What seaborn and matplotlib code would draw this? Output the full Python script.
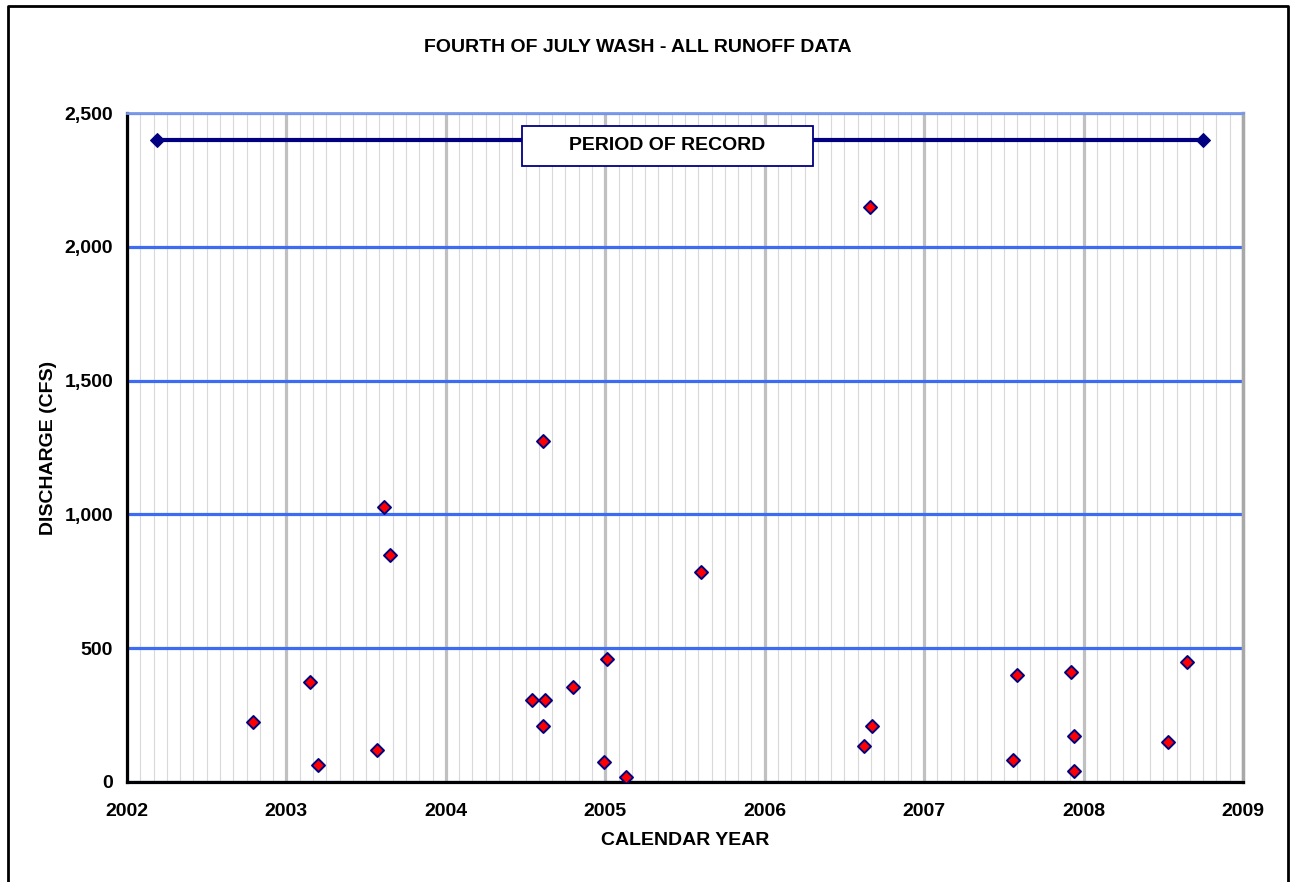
import numpy as np
import pandas as pd
import matplotlib
matplotlib.use("Agg")
import matplotlib.pyplot as plt
import matplotlib.patches as patches
from matplotlib.lines import Line2D
from matplotlib.ticker import MultipleLocator, FuncFormatter
import seaborn as sns

# Runoff events (decimal calendar year, discharge in cfs)
event_year = [2002.79, 2003.15, 2003.20, 2003.57, 2003.61, 2003.65,
              2004.54, 2004.61, 2004.62, 2004.61, 2004.80, 2004.99,
              2005.01, 2005.13, 2005.60, 2006.62, 2006.66, 2006.67,
              2007.56, 2007.58, 2007.92, 2007.94, 2007.94, 2008.53, 2008.65]
discharge = [225, 373, 62, 120, 1027, 850,
             305, 1275, 305, 210, 356, 74,
             459, 20, 785, 134, 2150, 210,
             84, 400, 410, 171, 42, 151, 448]

# Period of record bar
record_year = [2002.19, 2008.75]
record_level = [2400, 2400]

year_ticks = [2002, 2003, 2004, 2005, 2006, 2007, 2008, 2009]
cfs_ticks = [0, 500, 1000, 1500, 2000, 2500]

df = pd.DataFrame({"year": event_year, "cfs": discharge})
rec = pd.DataFrame({"year": record_year, "cfs": record_level})

sns.set_style("white")
plt.rcParams["font.family"] = ["Liberation Sans", "DejaVu Sans"]
plt.rcParams["font.weight"] = "bold"
plt.rcParams["text.color"] = "black"
plt.rcParams["axes.labelcolor"] = "black"
plt.rcParams["xtick.color"] = "black"
plt.rcParams["ytick.color"] = "black"

FS = 14

fig = plt.figure(figsize=(12.93, 8.82), dpi=100)
ax = fig.add_axes([127 / 1293, 1 - 782 / 882, 1116 / 1293, 669 / 882])

ax.set_xlim(2002, 2009)
ax.set_ylim(0, 2500)

# grid: monthly light lines, yearly gray lines, blue horizontal lines
ax.xaxis.set_major_locator(plt.FixedLocator(year_ticks))
ax.xaxis.set_minor_locator(MultipleLocator(1 / 12))
ax.yaxis.set_major_locator(plt.FixedLocator(cfs_ticks))
ax.grid(True, which="minor", axis="x", color="#d9d9d9", linewidth=0.8)
ax.grid(True, which="major", axis="x", color="#c0c0c0", linewidth=2.3)
ax.grid(True, which="major", axis="y", color="#3d6cf2", linewidth=2.3)
ax.set_axisbelow(True)

# period of record
sns.lineplot(data=rec, x="year", y="cfs", ax=ax, color="#000080", linewidth=3,
             marker="D", markersize=7.5, markeredgecolor="#000080", zorder=3)

sns.scatterplot(data=df, x="year", y="cfs", ax=ax, marker="D", s=44,
                color="#ff0000", edgecolor="#000080", linewidth=1.4, zorder=4)

ax.add_patch(patches.Rectangle((0.354, 0.9208), 0.2608, 0.0598,
                               transform=ax.transAxes, facecolor="white",
                               edgecolor="#000080", linewidth=1.3, zorder=5))
ax.text(0.354 + 0.1304, 0.9507, "PERIOD OF RECORD", transform=ax.transAxes,
        ha="center", va="center", fontsize=FS, fontweight="bold", zorder=6)

# spines
for s in ["left", "bottom"]:
    ax.spines[s].set_color("black")
    ax.spines[s].set_linewidth(2.3)
ax.spines["top"].set_color("#7a98e8")
ax.spines["top"].set_linewidth(2)
ax.spines["right"].set_color("#a8a8a8")
ax.spines["right"].set_linewidth(2.5)

ax.tick_params(axis="both", which="major", direction="out", length=5,
               width=2.3, color="black", labelsize=FS)
ax.tick_params(axis="x", which="major", pad=10)
ax.tick_params(axis="y", which="major", pad=5)
ax.tick_params(axis="x", which="minor", length=0)
ax.yaxis.set_major_formatter(FuncFormatter(lambda v, p: f"{int(v):,}"))
for lab in ax.get_xticklabels() + ax.get_yticklabels():
    lab.set_fontweight("bold")

ax.set_xlabel("CALENDAR YEAR", fontsize=FS, fontweight="bold", labelpad=9)
ax.set_ylabel("DISCHARGE (CFS)", fontsize=FS, fontweight="bold", labelpad=5)

fig.text(638 / 1293, 1 - 47 / 882, "FOURTH OF JULY WASH - ALL RUNOFF DATA",
         ha="center", va="center", fontsize=FS, fontweight="bold")

# outer chart frame (runs off the bottom of the picture)
fig.add_artist(Line2D([8 / 1293, 8 / 1293, 1288 / 1293, 1288 / 1293],
                      [0, 1 - 6 / 882, 1 - 6 / 882, 0],
                      transform=fig.transFigure, color="black", linewidth=2))

fig.savefig("out.png", dpi=100)
